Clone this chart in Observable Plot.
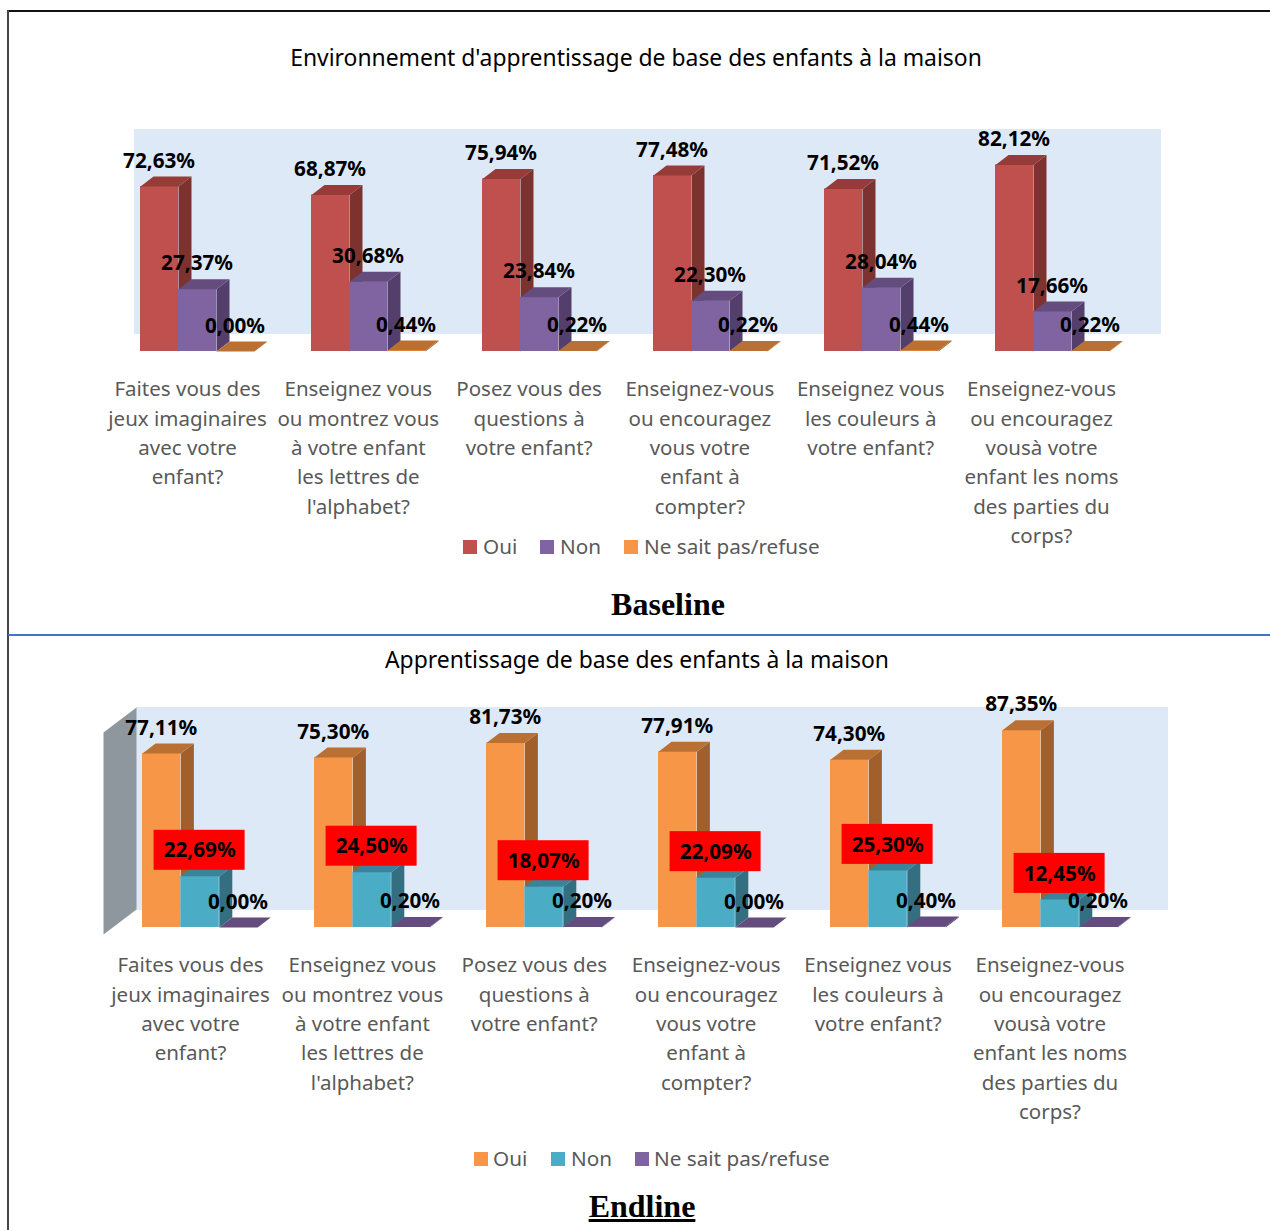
<!DOCTYPE html>
<html lang="fr">
<head>
<meta charset="utf-8">
<script src="https://cdn.jsdelivr.net/npm/d3@7"></script>
<script src="https://cdn.jsdelivr.net/npm/@observablehq/plot@0.6"></script>
<style>
html,body{margin:0;padding:0;background:#fff;}
#page{position:relative;width:1270px;height:1230px;overflow:hidden;font-family:"Noto Sans",sans-serif;}
#page svg{position:absolute;left:0;background:transparent;}
.t{position:absolute;white-space:nowrap;transform:translate(-50%,-50%);line-height:1;z-index:3;}
.chartTitle{font-size:22.9px;color:#000;}
.sec{font-family:"Liberation Serif",serif;font-weight:bold;font-size:32px;color:#000;}
.lg{position:absolute;white-space:nowrap;font-size:20.7px;color:#595959;line-height:1;transform:translateY(-50%);z-index:3;}
.sw{position:absolute;width:14px;height:14px;transform:translateY(-50%);z-index:3;}
.ln{position:absolute;z-index:4;}
</style>
</head>
<body>
<div id="page"></div>
<script>
const categories = [
  "Faites vous des\njeux imaginaires\navec votre\nenfant?",
  "Enseignez vous\nou montrez vous\nà votre enfant\nles lettres de\nl'alphabet?",
  "Posez vous des\nquestions à\nvotre enfant?",
  "Enseignez-vous\nou encouragez\nvous votre\nenfant à\ncompter?",
  "Enseignez vous\nles couleurs à\nvotre enfant?",
  "Enseignez-vous\nou encouragez\nvousà votre\nenfant les noms\ndes parties du\ncorps?"
];
const seriesNames = ["Oui", "Non", "Ne sait pas/refuse"];

const baselineOui = [72.63, 68.87, 75.94, 77.48, 71.52, 82.12];
const baselineNon = [27.37, 30.68, 23.84, 22.30, 28.04, 17.66];
const baselineNsp = [0.00, 0.44, 0.22, 0.22, 0.44, 0.22];

const endlineOui = [77.11, 75.30, 81.73, 77.91, 74.30, 87.35];
const endlineNon = [22.69, 24.50, 18.07, 22.09, 25.30, 12.45];
const endlineNsp = [0.00, 0.20, 0.20, 0.00, 0.40, 0.20];

const redFaces = {front:"#C0504D", side:"#7E3230", top:"#953C39"};
const purpleFaces = {front:"#8064A2", side:"#543F6C", top:"#644D7E"};
const orangeFaces = {front:"#F79646", side:"#A1602B", top:"#BA7032"};
const blueFaces = {front:"#4BACC6", side:"#336F80", top:"#3A8499"};

const fmt = v => v.toFixed(2).replace(".", ",") + "%";

function chart(cfg) {
  const {values, faces, x0, step, barW, base, k, h, top, panel, labelY, labelDx, labelStep, redBoxes, wall} = cfg;
  const dx = 13 / step, dy = 10 / k, w = barW / step;
  const toX = px => (px - x0) / step;
  const toY = py => (base - py) / k;
  const marks = [];
  marks.push(Plot.rect([panel], {
    x1: d => toX(d[0]), x2: d => toX(d[1]), y1: d => toY(d[2]), y2: d => toY(d[3]),
    fill: "#DEE9F8", inset: 0
  }));
  if (wall) {
    const p = wall.map(([a, b]) => ({x: toX(a), y: toY(b)}));
    marks.push(Plot.line(p, {x: "x", y: "y", fill: "#8E979E", stroke: "none"}));
  }
  values.forEach((vals, j) => {
    const rows = vals.map((v, i) => ({i, v, x: i + j * w}));
    marks.push(Plot.rect(rows, {
      x1: d => d.x, x2: d => d.x + w, y1: 0, y2: d => d.v, fill: faces[j].front, inset: 0
    }));
    const sides = rows.flatMap(d => [
      {id: d.i, x: d.x + w, y: 0},
      {id: d.i, x: d.x + w + dx, y: dy},
      {id: d.i, x: d.x + w + dx, y: d.v + dy},
      {id: d.i, x: d.x + w, y: d.v}
    ]);
    marks.push(Plot.line(sides, {x: "x", y: "y", z: "id", fill: faces[j].side, stroke: "none"}));
    const tops = rows.flatMap(d => [
      {id: d.i, x: d.x, y: d.v},
      {id: d.i, x: d.x + w, y: d.v},
      {id: d.i, x: d.x + w + dx, y: d.v + dy},
      {id: d.i, x: d.x + dx, y: d.v + dy}
    ]);
    marks.push(Plot.line(tops, {x: "x", y: "y", z: "id", fill: faces[j].top, stroke: "none"}));
  });
  values.forEach((vals, j) => {
    const rows = vals.map((v, i) => ({i, v, x: i + (j + 0.5) * w}));
    if (redBoxes && j === 1) {
      marks.push(Plot.rect(rows, {
        x1: "x", x2: "x", y1: "v", y2: "v", fill: "#FF0000",
        insetLeft: -46, insetRight: -45, insetTop: -46, insetBottom: 6
      }));
    }
    marks.push(Plot.text(rows, {
      x: d => d.x - 0.5 / step, y: "v", text: d => fmt(d.v), dy: labelY, fontSize: 20.7,
      fontWeight: "bold", fill: "#000", fontFamily: "Noto Sans"
    }));
  });
  marks.push(Plot.text(categories, {
    x: (d, i) => (labelDx + i * labelStep) / step,
    frameAnchor: "top", dy: top, lineAnchor: "top", lineHeight: 1.43,
    text: d => d, fontSize: 20.5, fill: "#595959", fontFamily: "Noto Sans"
  }));
  return Plot.plot({
    width: 1270, height: h,
    marginLeft: 0, marginRight: 0, marginTop: 0, marginBottom: 0,
    x: {axis: null, type: "linear", domain: [toX(0), toX(1270)], range: [0, 1270]},
    y: {axis: null, type: "linear", domain: [toY(h), toY(0)], range: [h, 0]},
    marks
  });
}

const page = document.getElementById("page");

const c1 = chart({
  values: [baselineOui, baselineNon, baselineNsp],
  faces: [redFaces, purpleFaces, orangeFaces],
  x0: 140, step: 171, barW: 38, base: 351, k: 2.272, h: 634, top: 375,
  panel: [134, 1161, 334, 129], labelY: -25.5, labelDx: 47, labelStep: 170.8, redBoxes: false
});
c1.style.top = "0px";
page.appendChild(c1);

const c2 = chart({
  values: [endlineOui, endlineNon, endlineNsp],
  faces: [orangeFaces, blueFaces, purpleFaces],
  x0: 142, step: 172, barW: 38.4, base: 293, k: 2.257, h: 596, top: 317,
  panel: [136, 1168, 276, 73], labelY: -25.5, labelDx: 48, labelStep: 171.9, redBoxes: true,
  wall: [[103, 98], [136, 73], [136, 275], [103, 300]]
});
c2.style.top = "634px";
page.appendChild(c2);

function addText(cls, text, x, y, extra) {
  const el = document.createElement("div");
  el.className = cls;
  el.textContent = text;
  el.style.left = x + "px";
  el.style.top = y + "px";
  if (extra) Object.assign(el.style, extra);
  page.appendChild(el);
}
addText("t chartTitle", "Environnement d'apprentissage de base des enfants à la maison", 636, 58);
addText("t chartTitle", "Apprentissage de base des enfants à la maison", 637, 660);
addText("t sec", "Baseline", 668, 604);
addText("t sec", "Endline", 642, 1206, {textDecoration: "underline"});

function legend(y, colors, swatchX, textX) {
  seriesNames.forEach((name, i) => {
    const s = document.createElement("div");
    s.className = "sw";
    s.style.left = swatchX[i] + "px";
    s.style.top = y + "px";
    s.style.background = colors[i];
    page.appendChild(s);
    addText("lg", name, textX[i], y - 1);
  });
}
legend(547, [redFaces.front, purpleFaces.front, orangeFaces.front], [463, 540, 624], [483, 560, 644]);
legend(1159, [orangeFaces.front, blueFaces.front, purpleFaces.front], [474, 551, 635], [493, 571, 654]);

function line(l, t, w, h, color) {
  const d = document.createElement("div");
  d.className = "ln";
  Object.assign(d.style, {left: l + "px", top: t + "px", width: w + "px", height: h + "px", background: color});
  page.appendChild(d);
}
line(8, 10, 1262, 1.5, "#111");
line(7, 10, 2, 1220, "#444");
line(8, 634, 1262, 1.5, "#4472C4");
</script>
</body>
</html>
